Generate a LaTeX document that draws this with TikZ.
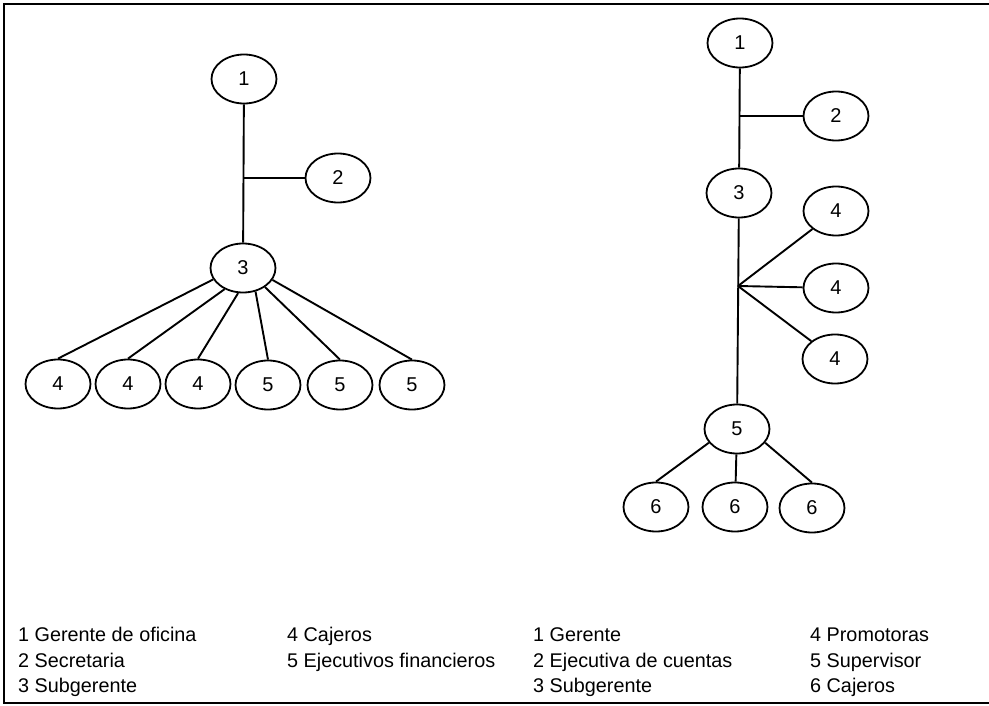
\documentclass[tikz,border=0pt]{standalone}
\usepackage{fontspec}
\setmainfont{Liberation Sans}
\usetikzlibrary{shapes.geometric}
\begin{document}
\begin{tikzpicture}[x=1pt,y=-1pt,
  oval/.style={draw, ellipse, line width=1.8pt, minimum width=65pt, minimum height=49pt, inner sep=0pt, font=\fontsize{20}{22}\selectfont},
  link/.style={line width=1.9pt},
  frame/.style={line width=1.8pt},
  legend/.style={anchor=base west, inner sep=0pt, font=\fontsize{19.8}{22}\selectfont}]
\useasboundingbox (0,0) rectangle (989,706);
% frame
\coordinate (ftl) at (4,4);
\coordinate (ftr) at (989,4);
\coordinate (fbl) at (4,703);
\coordinate (fbr) at (989,703);
\draw[frame] (ftr) -- (ftl) -- (fbl) -- (fbr);
% left tree
\node[oval] (L1) at (244,79) {1};
\node[oval] (L2) at (338,178) {2};
\node[oval] (L3) at (243,268) {3};
\coordinate (Lj) at (243.5,178);
\node[oval] (L4a) at (58,384) {4};
\node[oval] (L4b) at (128,384) {4};
\node[oval] (L4c) at (198,384) {4};
\node[oval] (L5a) at (268,385) {5};
\node[oval] (L5b) at (340,385) {5};
\node[oval] (L5c) at (412,385) {5};
\draw[link] (L1) -- (L3);
\draw[link] (Lj) -- (L2);
\draw[link] (L3.201) -- (L4a.north);
\draw[link] (L3.229) -- (L4b.north);
\draw[link] (L3.259) -- (L4c.north);
\draw[link] (L3.298) -- (L5a.north);
\draw[link] (L3.319) -- (L5b.north);
\draw[link] (L3.338) -- (L5c.north);
% right tree
\node[oval] (R1) at (740,43) {1};
\node[oval] (R2) at (836,116) {2};
\node[oval] (R3) at (739,193) {3};
\coordinate (Rj1) at (739.5,116);
\node[oval] (R4a) at (836,211) {4};
\node[oval] (R4b) at (836,288) {4};
\node[oval] (R4c) at (835,359) {4};
\node[oval] (R5) at (737,429) {5};
\coordinate (Rj2) at (738,286);
\node[oval] (R6a) at (656,507) {6};
\node[oval] (R6b) at (735,507) {6};
\node[oval] (R6c) at (812,508) {6};
\draw[link] (R1) -- (R3);
\draw[link] (Rj1) -- (R2);
\draw[link] (R3) -- (R5);
\draw[link] (Rj2) -- (R4a);
\draw[link] (Rj2) -- (R4b);
\draw[link] (Rj2) -- (R4c);
\draw[link] (R5.206) -- (R6a.north);
\draw[link] (R5) -- (R6b);
\draw[link] (R5.334) -- (R6c.north);
% legend
\node[legend] (g1) at (18,641) {1 Gerente de oficina};
\node[legend] (g2) at (18,667) {2 Secretaria};
\node[legend] (g3) at (18,692) {3 Subgerente};
\node[legend] (g4) at (287,641) {4 Cajeros};
\node[legend] (g5) at (287,667) {5 Ejecutivos financieros};
\node[legend] (h1) at (533,641) {1 Gerente};
\node[legend] (h2) at (533,667) {2 Ejecutiva de cuentas};
\node[legend] (h3) at (533,692) {3 Subgerente};
\node[legend] (h4) at (810,641) {4 Promotoras};
\node[legend] (h5) at (810,667) {5 Supervisor};
\node[legend] (h6) at (810,692) {6 Cajeros};
\end{tikzpicture}
\end{document}
